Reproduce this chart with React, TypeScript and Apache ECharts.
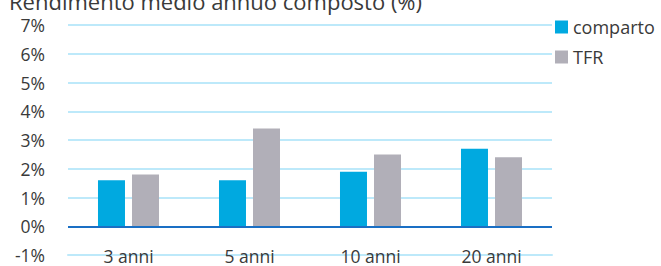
import React, { useEffect, useRef } from "react";
import * as echarts from "echarts";

const categories = ["3 anni", "5 anni", "10 anni", "20 anni"];
const comparto = [1.6, 1.6, 1.9, 2.7];
const tfr = [1.8, 3.4, 2.5, 2.4];
const titleText = "Rendimento medio annuo composto (%)";
const yMin = -1;
const yMax = 7;
const baseline = 0;

const FONT = "'Open Sans', 'Noto Sans', sans-serif";
const TEXT = "#3a3a3a";
const GRID = "#bde9fa";
const ZERO = "#1a6fc4";

export default function App() {
  const ref = useRef<HTMLDivElement>(null);
  useEffect(() => {
    if (!ref.current) return;
    const chart = echarts.init(ref.current, null, { renderer: "svg" });
    chart.setOption({
      animation: false,
      textStyle: { fontFamily: FONT },
      title: {
        text: titleText,
        left: 4,
        top: -15,
        textStyle: { fontFamily: FONT, fontSize: 22, fontWeight: "normal", color: TEXT },
      },
      legend: {
        orient: "vertical",
        left: 550,
        top: 13,
        itemWidth: 13,
        itemHeight: 13,
        itemGap: 12,
        icon: "rect",
        textStyle: { fontFamily: FONT, fontSize: 18, color: TEXT },
        data: ["comparto", "TFR"],
      },
      grid: {
        left: 68,
        right: 109,
        top: 25,
        bottom: 11,
        containLabel: false,
        outerBoundsMode: "none",
      },
      xAxis: {
        type: "category",
        data: categories,
        z: 1,
        axisLine: { show: true, onZero: false, lineStyle: { color: GRID, width: 2 } },
        axisTick: { show: false },
        axisLabel: { margin: -8, fontSize: 17.5, color: TEXT, fontFamily: FONT },
      },
      yAxis: {
        type: "value",
        min: yMin,
        max: yMax,
        interval: 1,
        axisLine: { show: false },
        axisTick: { show: false },
        axisLabel: {
          formatter: "{value}%",
          fontSize: 17.5,
          color: TEXT,
          fontFamily: FONT,
          margin: 23,
        },
        splitLine: { showMinLine: true, showMaxLine: true, lineStyle: { color: GRID, width: 2 } },
      },
      series: [
        {
          name: "comparto",
          type: "bar",
          data: comparto,
          barWidth: 27,
          barGap: "26%",
          itemStyle: { color: "#00a9e0" },
          markLine: {
            silent: true,
            symbol: "none",
            label: { show: false },
            lineStyle: { color: ZERO, width: 2, type: "solid" },
            data: [{ yAxis: baseline }],
          },
        },
        {
          name: "TFR",
          type: "bar",
          data: tfr,
          barWidth: 27,
          itemStyle: { color: "#b1afb8" },
        },
      ],
    });
    return () => chart.dispose();
  }, []);
  return <div ref={ref} style={{ width: 661, height: 266, position: "absolute", left: 0, top: 0 }} />;
}
